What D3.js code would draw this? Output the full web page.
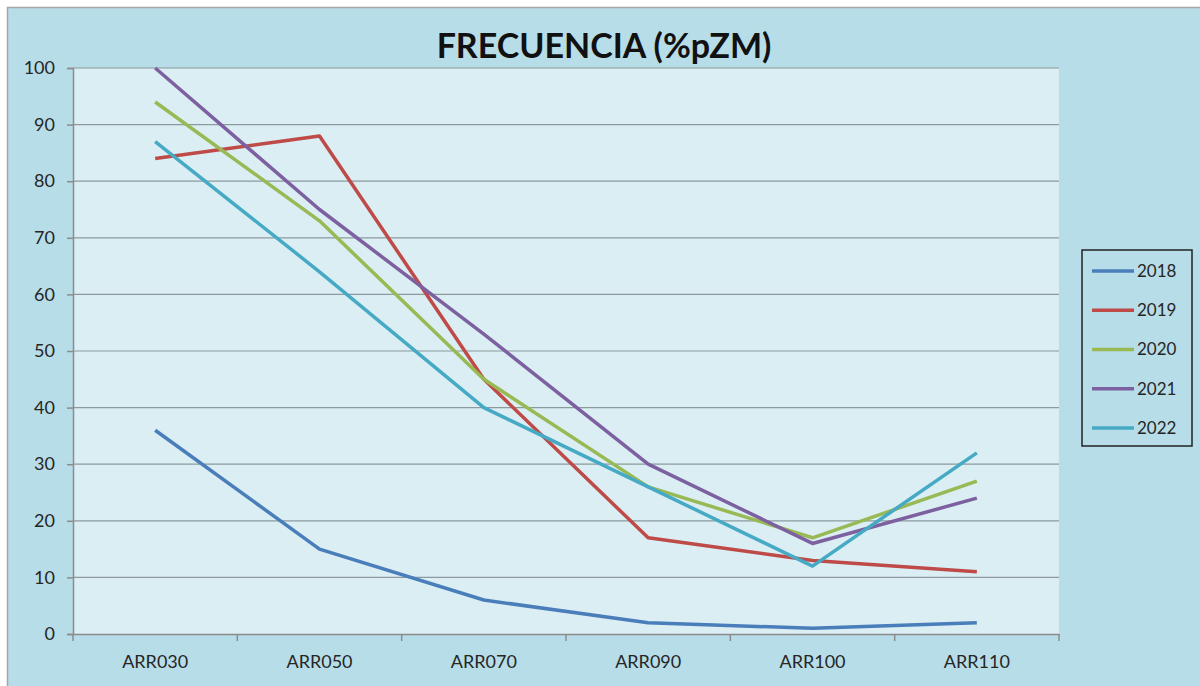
<!DOCTYPE html>
<html><head><meta charset="utf-8">
<script src="https://cdn.jsdelivr.net/npm/d3@7"></script>
<style>body{margin:0;background:#fff}svg{display:block}text{font-family:Lato,"Open Sans",sans-serif}</style>
</head><body>
<svg id="c" width="1200" height="686"></svg>
<script>
const categories = ["ARR030","ARR050","ARR070","ARR090","ARR100","ARR110"];
const years = ["2018","2019","2020","2021","2022"];
const s2018 = [36, 15, 6, 2, 1, 2];
const s2019 = [84, 88, 45, 17, 13, 11];
const s2020 = [94, 73, 45, 26, 17, 27];
const s2021 = [100, 75, 53, 30, 16, 24];
const s2022 = [87, 64, 40, 26, 12, 32];
const yTicks = [0,10,20,30,40,50,60,70,80,90,100];
const colors = ["#4a7ebb","#be4b48","#98b954","#7d60a0","#46aac5"];
const seriesVals = [s2018, s2019, s2020, s2021, s2022];

const svg = d3.select("#c");
svg.append("rect").attr("x",7.5).attr("y",7.5).attr("width",1200).attr("height",690)
  .attr("fill","#b7dde8").attr("stroke","#a6a6a6").attr("stroke-width",1.5);

const L=73, R=1059, T=68, B=634;
svg.append("rect").attr("x",L).attr("y",T).attr("width",R-L).attr("height",B-T).attr("fill","#dbeef4");

const x = d3.scaleBand().domain(categories).range([L,R]);
const y = d3.scaleLinear().domain([0,100]).range([B,T]);

// gridlines
svg.append("g").selectAll("line").data(yTicks.filter(d=>d>0)).join("line")
  .attr("x1",L).attr("x2",R).attr("y1",d=>y(d)).attr("y2",d=>y(d))
  .attr("stroke","#8c9a9e").attr("stroke-width",1.2);

// y axis
const ya = svg.append("g").attr("transform",`translate(${L},0)`)
  .call(d3.axisLeft(y).tickValues(yTicks).tickSize(6).tickPadding(12));
ya.select(".domain").attr("stroke","#8c8c8c").attr("stroke-width",1.5);
ya.selectAll(".tick line").attr("stroke","#8c8c8c").attr("stroke-width",1.5);
ya.selectAll("text").attr("font-size",18).attr("fill","#262626").attr("font-family","Lato, sans-serif");

// x axis
const xa = svg.append("g").attr("transform",`translate(0,${B})`)
  .call(d3.axisBottom(x).tickSize(0).tickPadding(21));
xa.select(".domain").attr("stroke","#8c8c8c").attr("stroke-width",1.5);
xa.selectAll("text").attr("font-size",18).attr("fill","#262626").attr("font-family","Lato, sans-serif");
const bounds = categories.map(c=>x(c)).concat([R]);
svg.append("g").selectAll("line").data(bounds).join("line")
  .attr("x1",d=>d).attr("x2",d=>d).attr("y1",B).attr("y2",B+7)
  .attr("stroke","#8c8c8c").attr("stroke-width",1.5);

// lines
const line = d3.line().x((d,i)=>x(categories[i])+x.bandwidth()/2).y(d=>y(d));
seriesVals.forEach((vals,i)=>{
  svg.append("path").attr("d",line(vals)).attr("fill","none")
    .attr("stroke",colors[i]).attr("stroke-width",3.5).attr("stroke-linejoin","round");
});

// title
svg.append("text").attr("x",604).attr("y",58).attr("text-anchor","middle")
  .attr("font-size",34).attr("font-weight","bold").attr("fill","#111")
  .attr("font-family","Lato, sans-serif").text("FRECUENCIA (%pZM)");

// legend
const lg = svg.append("g");
lg.append("rect").attr("x",1082).attr("y",250).attr("width",110).attr("height",196)
  .attr("fill","none").attr("stroke","#222").attr("stroke-width",1.5);
const ly = d3.scalePoint().domain(years).range([271,428]);
years.forEach((yr,i)=>{
  lg.append("line").attr("x1",1092).attr("x2",1134).attr("y1",ly(yr)).attr("y2",ly(yr))
    .attr("stroke",colors[i]).attr("stroke-width",3.5);
  lg.append("text").attr("x",1137).attr("y",ly(yr)).attr("dy","0.35em")
    .attr("font-size",17).attr("fill","#262626").text(yr);
});
</script>
</body></html>
